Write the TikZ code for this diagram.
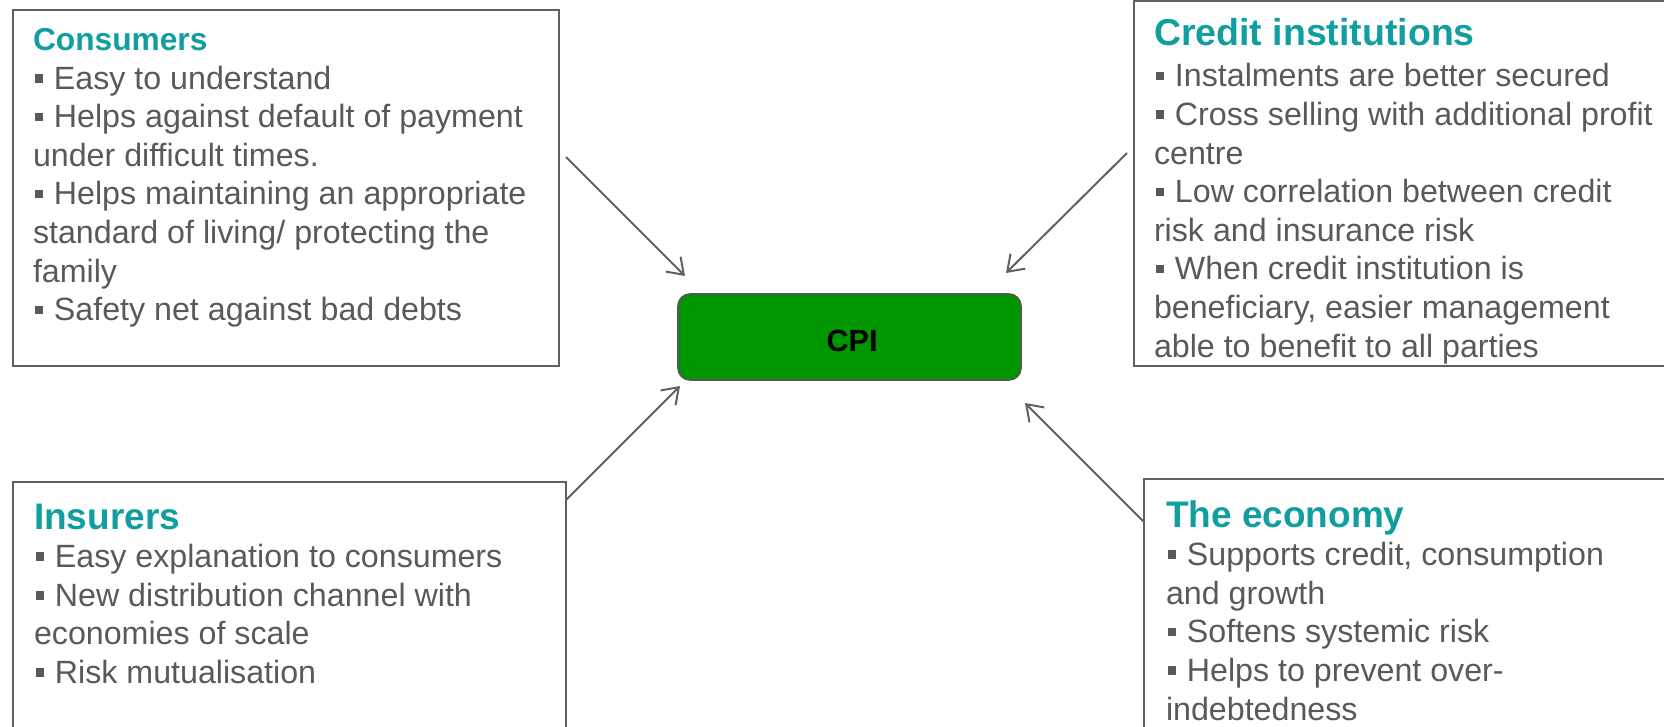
\documentclass[tikz,border=0pt]{standalone}
\usepackage{fontspec}
\setmainfont{Liberation Sans}
\usetikzlibrary{arrows.meta}
\definecolor{headteal}{RGB}{16,158,160}
\definecolor{txtgray}{RGB}{89,89,89}
\definecolor{linegray}{RGB}{96,96,96}
\definecolor{cpigreen}{RGB}{0,150,0}
\newcommand\bul{\hspace*{0.05em}\textcolor{txtgray}{\rule[0.2em]{0.27em}{0.27em}}\hspace*{0.33em}}
\newcommand\hd[2]{{\fontsize{#1}{38.6}\selectfont\bfseries\color{headteal}\rule{0pt}{0.9em}#2}}
\tikzset{
  panel/.style={draw=linegray, line width=1.3pt, inner sep=0pt, outer sep=0pt, anchor=north west},
  paneltext/.style={inner sep=0pt, outer sep=0pt, anchor=north west, align=left, text=txtgray,
    font=\fontsize{32.2}{38.6}\selectfont},
  cpibox/.style={draw=linegray!90!black, line width=1.6pt, fill=cpigreen, rounded corners=12pt,
    minimum width=343pt, minimum height=86pt, inner sep=0pt,
    font=\fontsize{30.6}{36}\selectfont\bfseries, text=black},
  link/.style={draw=linegray, line width=2pt, -{Straight Barb[length=15pt,width=21pt]}}
}
\begin{document}
\begin{tikzpicture}[x=1pt,y=-1pt]
\useasboundingbox (0,0) rectangle (1664,727);
\clip (0,0) rectangle (1664,727);

% boxes
\node[panel, minimum width=546pt, minimum height=356pt] (consbox) at (13,10) {};
\node[panel, minimum width=600pt, minimum height=365pt] (credbox) at (1134,1) {};
\node[panel, minimum width=553pt, minimum height=300pt] (insbox) at (13,482) {};
\node[panel, minimum width=600pt, minimum height=300pt] (ecobox) at (1144,479) {};

% texts
\node[paneltext] (constext) at (33,22) {%
\hd{31.7}{Consumers}\\
\bul Easy to understand\\
\bul Helps against default of payment\\
under difficult times.\\
\bul Helps maintaining an appropriate\\
standard of living/ protecting the\\
family\\
\bul Safety net against bad debts};

\node[paneltext] (credtext) at (1154,11.5) {%
\hd{37.5}{Credit institutions}\\[3pt]
\bul Instalments are better secured\\
\bul Cross selling with additional profit\\
centre\\
\bul Low correlation between credit\\
risk and insurance risk\\
\bul When credit institution is\\
beneficiary, easier management\\
able to benefit to all parties};

\node[paneltext] (instext) at (34,495.7) {%
\hd{37}{Insurers}\\
\bul Easy explanation to consumers\\
\bul New distribution channel with\\
economies of scale\\
\bul Risk mutualisation};

\node[paneltext] (ecotext) at (1166,493.7) {%
\hd{37}{The economy}\\
\bul Supports credit, consumption\\
and growth\\
\bul Softens systemic risk\\
\bul Helps to prevent over-\\
indebtedness};

% centre
\node[cpibox] (cpi) at (849.5,337) {\hspace*{5pt}\raisebox{-4pt}[\height][\depth]{CPI}};

% connector ends
\coordinate (a1s) at (566,157);  \coordinate (a1e) at (685,276);
\coordinate (a2s) at (1127,153); \coordinate (a2e) at (1006,273);
\coordinate (a3s) at (566,500);  \coordinate (a3e) at (680,386);
\coordinate (a4s) at (1144,522); \coordinate (a4e) at (1025,403);

\draw[link] (a1s) -- (a1e);
\draw[link] (a2s) -- (a2e);
\draw[link] (a3s) -- (a3e);
\draw[link] (a4s) -- (a4e);
\end{tikzpicture}
\end{document}
